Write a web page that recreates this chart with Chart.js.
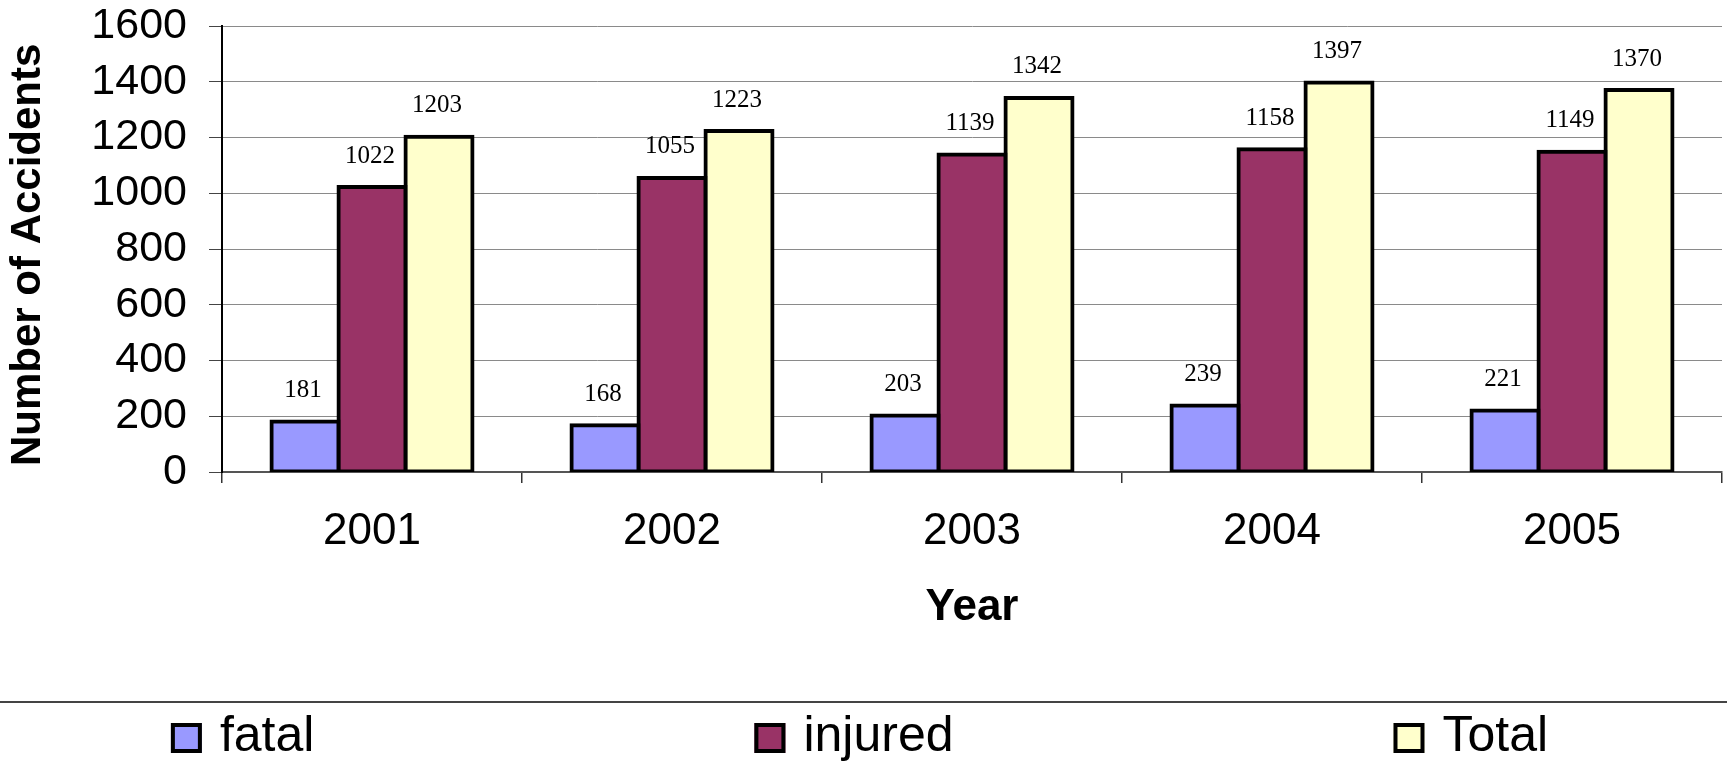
<!DOCTYPE html>
<html>
<head>
<meta charset="utf-8">
<title>Number of Accidents by Year</title>
<script src="https://cdn.jsdelivr.net/npm/chart.js@4"></script>
<style>
  html, body { margin: 0; padding: 0; background: #fff; }
  #wrap { width: 1727px; height: 774px; }
</style>
</head>
<body>
<div id="wrap"><canvas id="myChart" width="1727" height="774"></canvas></div>
<script>
const years = ['2001', '2002', '2003', '2004', '2005'];
const fatal = [181, 168, 203, 239, 221];
const injured = [1022, 1055, 1139, 1158, 1149];
const total = [1203, 1223, 1342, 1397, 1370];
const yMax = 1600;
const yStep = 200;

const sans = "'Liberation Sans', Arial, sans-serif";
const serif = "'Liberation Serif', 'Times New Roman', serif";

// numbers printed above every bar
const barValues = {
  id: 'barValues',
  afterDatasetsDraw(chart) {
    const ctx = chart.ctx;
    ctx.save();
    ctx.font = '25px ' + serif;
    ctx.fillStyle = '#000';
    ctx.textAlign = 'center';
    ctx.textBaseline = 'middle';
    chart.data.datasets.forEach((ds, i) => {
      chart.getDatasetMeta(i).data.forEach((bar, j) => {
        ctx.fillText(ds.data[j], bar.x - 2, bar.y - 31);
      });
    });
    ctx.restore();
  }
};

// legend spread over the full width, under a rule
const spreadLegend = {
  id: 'spreadLegend',
  afterDraw(chart) {
    const ctx = chart.ctx;
    const w = chart.width;
    const lineY = chart.height - 72;
    const box = 31, gap = 18, spacing = 440;
    ctx.save();
    ctx.strokeStyle = '#444';
    ctx.lineWidth = 2;
    ctx.beginPath();
    ctx.moveTo(0, lineY);
    ctx.lineTo(w, lineY);
    ctx.stroke();

    ctx.font = '50px ' + sans;
    const items = chart.data.datasets.map(ds => ({
      text: ds.label,
      color: ds.backgroundColor,
      width: box + gap + ctx.measureText(ds.label).width
    }));
    const full = items.reduce((s, it) => s + it.width, 0) + spacing * (items.length - 1);
    let x = (w - full) / 2 - 4;
    const boxTop = lineY + 21;
    items.forEach(it => {
      ctx.fillStyle = it.color;
      ctx.fillRect(x, boxTop, box, 30);
      ctx.strokeStyle = '#000';
      ctx.lineWidth = 4;
      ctx.strokeRect(x + 2, boxTop + 2, box - 4, 26);
      ctx.fillStyle = '#000';
      ctx.textBaseline = 'alphabetic';
      ctx.textAlign = 'left';
      ctx.fillText(it.text, x + box + gap, lineY + 49);
      x += it.width + spacing;
    });
    ctx.restore();
  }
};

const barStyle = {
  borderColor: '#000',
  borderWidth: 4,
  borderSkipped: false,
  inflateAmount: 2,
  categoryPercentage: 0.67,
  barPercentage: 1.0
};

const data = {
  labels: years,
  datasets: [
    Object.assign({ label: 'fatal', data: fatal, backgroundColor: '#9999FF' }, barStyle),
    Object.assign({ label: 'injured', data: injured, backgroundColor: '#993366' }, barStyle),
    Object.assign({ label: 'Total', data: total, backgroundColor: '#FFFFCC' }, barStyle)
  ]
};

const config = {
  type: 'bar',
  data: data,
  plugins: [barValues, spreadLegend],
  options: {
    responsive: false,
    maintainAspectRatio: false,
    animation: false,
    layout: { padding: { top: 26, right: 5, left: 0, bottom: 140 } },
    plugins: {
      legend: { display: false },
      tooltip: { enabled: false }
    },
    scales: {
      x: {
        afterFit: (scale) => { scale.height = 162; },
        grid: {
          offset: true,
          drawOnChartArea: false,
          tickLength: 11,
          color: '#333',
          lineWidth: 1.5
        },
        border: { color: '#555', width: 2 },
        ticks: {
          padding: 22,
          color: '#000',
          font: { family: sans, size: 44 }
        },
        title: {
          display: true,
          text: 'Year',
          color: '#000',
          font: { family: sans, size: 44, weight: 'bold' },
          padding: { top: 23, bottom: 0 }
        }
      },
      y: {
        min: 0,
        max: yMax,
        afterFit: (scale) => {
          scale.width = 222;
          scale.paddingTop = 0;
          scale.paddingBottom = 0;
        },
        grid: {
          color: '#8a8a8a',
          lineWidth: 1,
          tickLength: 13,
          tickColor: '#444'
        },
        border: { color: '#000', width: 2 },
        ticks: {
          stepSize: yStep,
          autoSkip: false,
          padding: 22,
          color: '#000',
          font: { family: sans, size: 43 },
          callback: (value) => String(value)
        },
        title: {
          display: true,
          text: 'Number of Accidents ',
          color: '#000',
          font: { family: sans, size: 42, weight: 'bold' },
          padding: { top: 3, bottom: 0 }
        }
      }
    }
  }
};

const myChart = new Chart(
  document.getElementById('myChart'),
  config
);
</script>
</body>
</html>
